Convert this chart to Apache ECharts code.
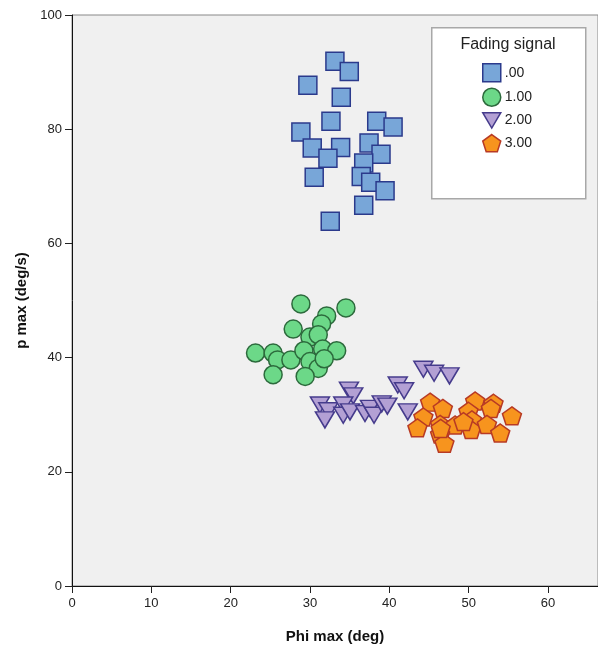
<!DOCTYPE html>
<html>
<head>
<meta charset="utf-8">
<script src="https://cdn.jsdelivr.net/npm/echarts@6/dist/echarts.min.js"></script>
<style>html,body{margin:0;padding:0;background:#fff}#c{width:598px;height:646px}</style>
</head>
<body>
<div id="c"></div>
<script>
const seriesNames = ['.00', '1.00', '2.00', '3.00'];
const xTicks = [0, 10, 20, 30, 40, 50, 60];
const yTicks = [0, 20, 40, 60, 80, 100];

const group0 = [
  [33.14, 91.9], [34.95, 90.1], [29.73, 87.7], [33.94, 85.6], [32.64, 81.4],
  [38.41, 81.4], [40.47, 80.4], [28.85, 79.5], [30.28, 76.7], [33.86, 76.8],
  [37.44, 77.6], [38.95, 75.6], [32.26, 74.9], [36.77, 74.1], [36.46, 71.7],
  [37.65, 70.7], [30.53, 71.6], [39.46, 69.2], [36.77, 66.7], [32.55, 63.9]
];
const group1 = [
  [28.85, 49.4], [34.53, 48.7], [32.10, 47.3], [31.46, 45.9], [27.88, 45.0],
  [29.99, 43.6], [31.04, 44.0], [23.13, 40.8], [25.35, 40.8], [25.91, 39.6],
  [27.59, 39.6], [29.23, 41.2], [31.59, 41.5], [33.36, 41.2], [29.99, 39.3],
  [31.04, 38.1], [31.79, 39.8], [25.35, 37.0], [29.39, 36.7]
];
const group2 = [
  [44.29, 37.95], [45.64, 37.25], [47.58, 36.8], [41.06, 35.2], [41.86, 34.2],
  [34.91, 34.3], [35.45, 33.3], [31.25, 31.7], [32.30, 30.7], [31.88, 29.1],
  [34.19, 31.7], [34.19, 29.9], [35.04, 30.5], [36.93, 30.2], [37.56, 31.1],
  [38.07, 29.9], [39.04, 31.9], [39.75, 31.5], [42.32, 30.5]
];
const group3 = [
  [45.14, 32.2], [46.74, 31.1], [50.82, 32.4], [53.13, 32.0], [52.80, 31.1],
  [49.97, 30.6], [55.45, 29.8], [44.29, 29.6], [43.54, 27.7], [46.40, 28.3],
  [48.30, 28.2], [50.40, 29.1], [50.32, 27.4], [52.30, 28.3], [53.98, 26.8],
  [46.40, 26.6], [46.94, 25.0], [49.34, 28.8], [46.47, 27.6]
];

const FONT = '"Liberation Sans", Arial, sans-serif';
const triDown = 'path://M0,0 L20,0 L10,17 Z';
const pentagon = 'path://M50,0 L97.6,34.5 L79.4,90.5 L20.6,90.5 L2.4,34.5 Z';

const styles = [
  {data: group0, symbol: 'rect', size: 18, fill: '#78a6d8', stroke: '#2b3a8c'},
  {data: group1, symbol: 'circle', size: 18, fill: '#6cd888', stroke: '#2c6a3c'},
  {data: group2, symbol: triDown, size: [19, 16], fill: '#b3a0d4', stroke: '#453b8c'},
  {data: group3, symbol: pentagon, size: [19, 18], fill: '#f7941e', stroke: '#b83a24'}
];

const chart = echarts.init(document.getElementById('c'), null, {renderer: 'canvas'});
chart.setOption({
  animation: false,
  backgroundColor: '#ffffff',
  textStyle: {fontFamily: FONT},
  grid: {left: 72, top: 15, right: 0, bottom: 60, outerBoundsMode: 'none', containLabel: false,
         show: true, backgroundColor: '#f0f0f0', borderColor: '#888', borderWidth: 1},
  xAxis: {
    type: 'value', min: 0, max: 66.3,
    name: 'Phi max (deg)', nameLocation: 'middle', nameGap: 43,
    nameTextStyle: {fontFamily: FONT, fontSize: 15, fontWeight: 'bold', color: '#111'},
    axisLine: {show: true, onZero: false, lineStyle: {color: '#111', width: 1}},
    axisTick: {show: true, length: 7, customValues: xTicks, lineStyle: {color: '#222'}},
    axisLabel: {customValues: xTicks, fontSize: 13, color: '#222', fontFamily: FONT, margin: 11},
    splitLine: {show: false}
  },
  yAxis: {
    type: 'value', min: 0, max: 100, interval: 20,
    name: 'p max (deg/s)', nameLocation: 'middle', nameGap: 42, nameRotate: 90,
    nameTextStyle: {fontFamily: FONT, fontSize: 15, fontWeight: 'bold', color: '#111'},
    axisLine: {show: true, onZero: false, lineStyle: {color: '#111', width: 1}},
    axisTick: {show: true, length: 7, customValues: yTicks, lineStyle: {color: '#222'}},
    axisLabel: {customValues: yTicks, fontSize: 13, color: '#222', fontFamily: FONT, margin: 10},
    splitLine: {show: false}
  },
  legend: {
    orient: 'vertical', left: 482, top: 63, itemGap: 5,
    itemWidth: 18, itemHeight: 18, itemStyle: {borderWidth: 1.5},
    textStyle: {fontFamily: FONT, fontSize: 14, color: '#222', padding: [0, 0, 0, -1]},
    padding: 0, data: seriesNames, z: 20
  },
  graphic: [
    {type: 'rect', left: 431, top: 27, z: 10, shape: {width: 154, height: 171},
     style: {fill: '#ffffff', stroke: '#a8a8a8', lineWidth: 1.5}},
    {type: 'text', x: 508, y: 45, z: 11,
     style: {text: 'Fading signal', fontFamily: FONT, fontSize: 16, fill: '#222', align: 'center', verticalAlign: 'middle'}}
  ],
  series: styles.map((s, i) => ({
    type: 'scatter', name: seriesNames[i], data: s.data,
    symbol: s.symbol, symbolSize: s.size,
    itemStyle: {color: s.fill, borderColor: s.stroke, borderWidth: 1.5, opacity: 1}
  }))
});
</script>
</body>
</html>
